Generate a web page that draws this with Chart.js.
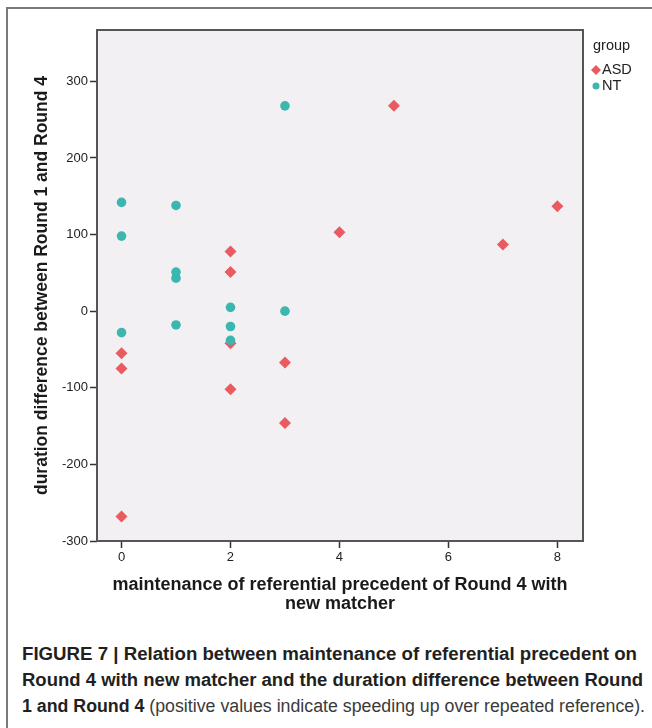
<!DOCTYPE html>
<html>
<head>
<meta charset="utf-8">
<script src="https://cdn.jsdelivr.net/npm/chart.js@4.4.1/dist/chart.umd.min.js"></script>
<style>
    html, body { margin: 0; padding: 0; background: #fff; }
    body { width: 652px; height: 728px; position: relative; overflow: hidden; }
    #frame { position: absolute; left: 6px; top: 7px; width: 700px; height: 800px; border-top: 2px solid #7a7a7a; border-left: 2px solid #7a7a7a; }
    #chartBox { position: absolute; left: 0; top: 0; width: 652px; height: 620px; }
    #caption { position: absolute; left: 22px; top: 641px; font-family: "Liberation Sans Narrow", "Liberation Sans", Arial, sans-serif; font-size: 18px; line-height: 26px; color: #231f20; }
    #caption .ln { white-space: nowrap; transform-origin: 0 50%; display: inline-block; }
    #caption .rest { color: #3a3a3a; font-weight: normal; }
</style>
</head>
<body>
<div id="frame"></div>
<div id="chartBox"><canvas id="scatter" width="652" height="620"></canvas></div>
<div id="caption">
    <div><span class="ln"><b>FIGURE 7 | Relation between maintenance of referential precedent on</b></span></div>
    <div><span class="ln"><b>Round 4 with new matcher and the duration difference between Round</b></span></div>
    <div><span class="ln"><b>1 and Round 4</b><span class="rest"> (positive values indicate speeding up over repeated reference).</span></span></div>
</div>
<script>
// tick labels
var xTicks = [0, 2, 4, 6, 8];
var yTicks = [-300, -200, -100, 0, 100, 200, 300];

// ASD group (red diamonds)
var asdX = [0, 0, 0, 2, 2, 2, 2, 3, 3, 4, 5, 7, 8];
var asdY = [-55, -75, -268, 78, 51, -42, -102, -67, -146, 103, 268, 87, 137];

// NT group (teal circles)
var ntX = [0, 0, 0, 1, 1, 1, 1, 2, 2, 2, 3, 3];
var ntY = [142, 98, -28, 138, 51, 43, -18, 5, -20, -38, 268, 0];

var groups = ['ASD', 'NT'];
var legendTitle = 'group';
var xTitle = ['maintenance of referential precedent of Round 4 with', 'new matcher'];
var yTitle = 'duration difference between Round 1 and Round 4';

var ASD_COLOR = '#e95b60';
var NT_COLOR = '#3bb7b0';
var TXT = '#222';
var FONT = '"Liberation Sans", Arial, sans-serif';

function pts(xs, ys) {
    return xs.map(function (x, i) { return { x: x, y: ys[i] }; });
}

// plot background + box border
var plotFrame = {
    id: 'plotFrame',
    beforeDatasetsDraw: function (chart) {
        var a = chart.chartArea, ctx = chart.ctx;
        ctx.save();
        ctx.fillStyle = '#f3f0f4';
        ctx.fillRect(a.left, a.top, a.right - a.left, a.bottom - a.top);
        ctx.strokeStyle = '#555';
        ctx.lineWidth = 2;
        ctx.strokeRect(a.left, a.top, a.right - a.left, a.bottom - a.top);
        ctx.restore();
    }
};

// legend on the right, SPSS style
var groupLegend = {
    id: 'groupLegend',
    afterDraw: function (chart) {
        var ctx = chart.ctx;
        var x0 = chart.chartArea.right + 10;
        ctx.save();
        ctx.fillStyle = TXT;
        ctx.font = '14.5px ' + FONT;
        ctx.textBaseline = 'middle';
        ctx.fillText(legendTitle, x0, 46);
        chart.data.datasets.forEach(function (ds, i) {
            var cy = 70 + i * 16, cx = x0 + 3;
            ctx.fillStyle = ds.backgroundColor;
            ctx.beginPath();
            if (ds.pointStyle === 'rectRot') {
                ctx.moveTo(cx - 5, cy); ctx.lineTo(cx, cy - 5); ctx.lineTo(cx + 5, cy); ctx.lineTo(cx, cy + 5);
                ctx.closePath();
            } else {
                ctx.arc(cx, cy, 3.5, 0, Math.PI * 2);
            }
            ctx.fill();
            ctx.fillStyle = TXT;
            ctx.fillText(ds.label, x0 + 9, cy);
        });
        ctx.restore();
    }
};

new Chart(document.getElementById('scatter'), {
    type: 'scatter',
    data: {
        datasets: [
            { label: groups[0], data: pts(asdX, asdY), pointStyle: 'rectRot', pointRadius: 6, backgroundColor: ASD_COLOR, borderWidth: 0, order: 1 },
            { label: groups[1], data: pts(ntX, ntY), pointStyle: 'circle', pointRadius: 4.8, backgroundColor: NT_COLOR, borderWidth: 0, order: 0 }
        ]
    },
    options: {
        responsive: false,
        animation: false,
        layout: { padding: { top: 30, right: 69, bottom: 0, left: 0 } },
        plugins: { legend: { display: false }, tooltip: { enabled: false } },
        scales: {
            x: {
                type: 'linear', min: -0.45, max: 8.47,
                afterBuildTicks: function (s) { s.ticks = xTicks.map(function (v) { return { value: v }; }); },
                afterFit: function (s) { s.height = 79; },
                grid: { drawOnChartArea: false, drawTicks: true, tickLength: 7, tickColor: '#333', tickWidth: 1.5 },
                border: { display: false },
                ticks: { autoSkip: false, maxRotation: 0, padding: 2, color: '#222', font: { family: FONT, size: 13 } },
                title: { display: true, text: xTitle, color: '#1a1a1a', padding: { top: 0, bottom: 7 }, font: { family: FONT, size: 18, weight: 'bold', lineHeight: 1.05 } }
            },
            y: {
                type: 'linear', min: -300, max: 367,
                afterBuildTicks: function (s) { s.ticks = yTicks.map(function (v) { return { value: v }; }); },
                afterFit: function (s) { s.width = 97; },
                grid: { drawOnChartArea: false, drawTicks: true, tickLength: 7, tickColor: '#333', tickWidth: 1.5 },
                border: { display: false },
                ticks: { autoSkip: false, padding: 2, color: '#222', font: { family: FONT, size: 13 } },
                title: { display: true, text: yTitle, color: '#1a1a1a', padding: { top: 32, bottom: 0 }, font: { family: FONT, size: 17.5, weight: 'bold', lineHeight: 1.2 } }
            }
        }
    },
    plugins: [plotFrame, groupLegend]
});

// squeeze each caption line to the width it has in the figure
var capWidths = [615, 621, 623];
document.querySelectorAll('#caption .ln').forEach(function (el, i) {
    var w = el.getBoundingClientRect().width;
    if (w > 0) el.style.transform = 'scaleX(' + (capWidths[i] / w).toFixed(4) + ')';
});
</script>
</body>
</html>
